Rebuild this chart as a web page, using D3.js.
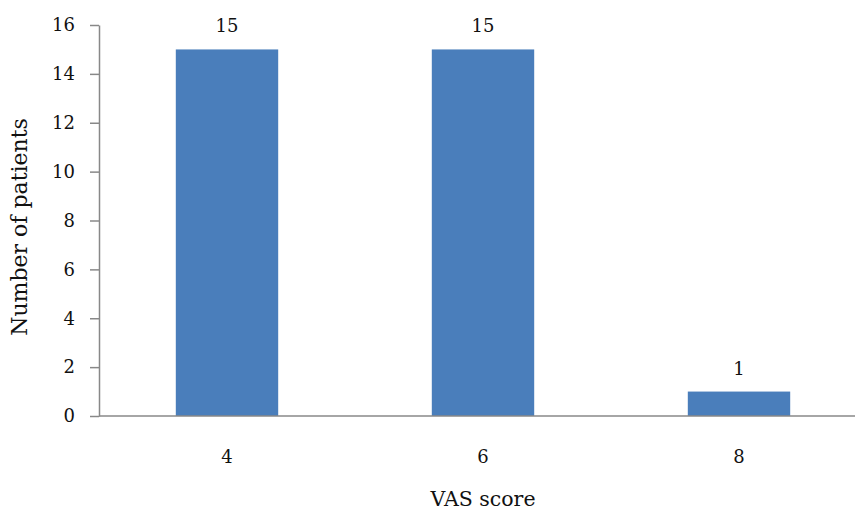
<!DOCTYPE html>
<html><head><meta charset="utf-8">
<script src="https://cdn.jsdelivr.net/npm/d3@7"></script>
<style>body{margin:0;background:#fff}svg{display:block}text{font-family:"DejaVu Serif",serif;fill:#111}</style>
</head><body><svg id="c" width="857" height="512"></svg>
<script>
const categories = ["4", "6", "8"];
const patients = [15, 15, 1];
const yTicks = [0, 2, 4, 6, 8, 10, 12, 14, 16];
const xTitle = "VAS score";
const yTitle = "Number of patients";

const svg = d3.select("#c");
const mLeft = 99, mRight = 867, mTop = 25, mBottom = 416;
const x = d3.scaleBand().domain(categories).range([mLeft, mRight]).paddingInner(0.6).paddingOuter(0.3);
const y = d3.scaleLinear().domain([0, 16]).range([mBottom, mTop]);

const g = svg.append("g");
g.selectAll("rect").data(patients).join("rect")
  .attr("x", (d, i) => x(categories[i]) )
  .attr("width", x.bandwidth())
  .attr("y", d => y(d)).attr("height", d => y(0) - y(d))
  .attr("fill", "#4a7ebb");

g.selectAll("text.val").data(patients).join("text").attr("class","val")
  .attr("x", (d, i) => x(categories[i]) + x.bandwidth()/2)
  .attr("y", d => y(d) - 17).attr("text-anchor","middle")
  .attr("font-size", 18).text(d => d);

const ya = svg.append("g").attr("transform", `translate(${mLeft},0)`)
  .call(d3.axisLeft(y).tickValues(yTicks).tickSize(9).tickPadding(15).tickSizeOuter(0));
ya.select(".domain").attr("stroke", "#888").attr("stroke-width", 1.5);
ya.selectAll(".tick line").attr("stroke", "#888").attr("stroke-width", 1.5);
ya.selectAll("text").attr("font-size", 18).attr("font-family", "DejaVu Serif").attr("fill", "#111");

const xa = svg.append("g").attr("transform", `translate(0,${mBottom})`)
  .call(d3.axisBottom(x).tickSize(0).tickPadding(34));
xa.select(".domain").remove();
svg.append("line").attr("x1", mLeft).attr("x2", 855).attr("y1", mBottom).attr("y2", mBottom)
  .attr("stroke", "#888").attr("stroke-width", 1.5);
xa.selectAll("text").attr("font-size", 18).attr("font-family", "DejaVu Serif").attr("fill", "#111");

svg.append("text").attr("x", 483).attr("y", 506).attr("text-anchor","middle")
  .attr("font-size", 20.5).text(xTitle);
svg.append("text").attr("transform", "translate(27,227) rotate(-90)").attr("text-anchor","middle")
  .attr("font-size", 22).text(yTitle);
</script></body></html>
